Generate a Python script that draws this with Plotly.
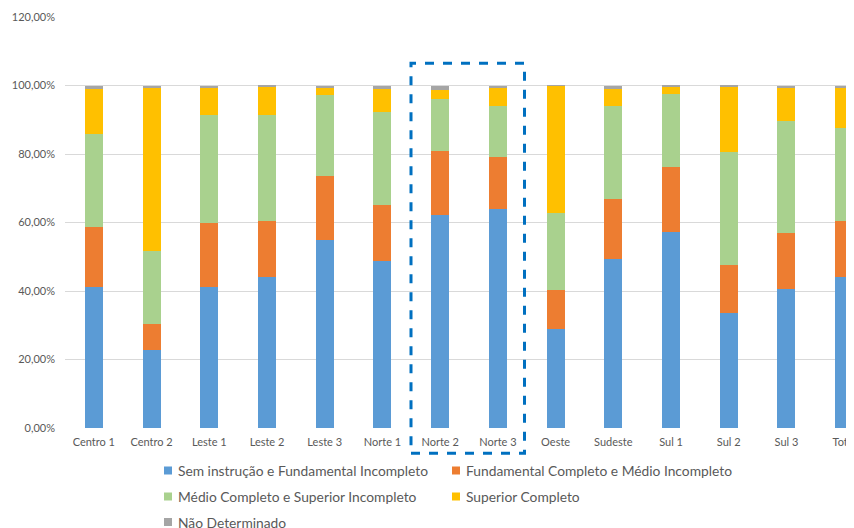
# data viz
import plotly.graph_objects as go

# regions
regioes = ["Centro 1", "Centro 2", "Leste 1", "Leste 2", "Leste 3", "Norte 1", "Norte 2",
           "Norte 3", "Oeste", "Sudeste", "Sul 1", "Sul 2", "Sul 3", "Total"]

# share of each education level (%)
sem_instrucao = [41.3, 22.8, 41.3, 44.1, 54.8, 48.7, 62.3, 63.9, 28.9, 49.4, 57.1, 33.5, 40.6, 44.1]
fund_completo = [17.5, 7.7, 18.7, 16.3, 18.9, 16.3, 18.6, 15.2, 11.4, 17.4, 19.0, 14.2, 16.3, 16.4]
medio_completo = [27.1, 21.3, 31.4, 31.0, 23.6, 27.4, 15.1, 14.8, 22.5, 27.3, 21.4, 33.0, 32.6, 27.2]
superior = [13.2, 47.7, 8.1, 8.2, 2.2, 6.7, 2.7, 5.3, 37.1, 4.8, 2.3, 19.1, 9.9, 11.6]
nao_determinado = [0.9, 0.5, 0.5, 0.4, 0.5, 0.9, 1.3, 0.8, 0.1, 1.1, 0.2, 0.2, 0.6, 0.7]

y_ticks = [0, 20, 40, 60, 80, 100, 120]
y_ticktext = ["0,00%", "20,00%", "40,00%", "60,00%", "80,00%", "100,00%", "120,00%"]

series = [
    ("Sem instrução e Fundamental Incompleto", sem_instrucao, "#5B9BD5"),
    ("Fundamental Completo e Médio Incompleto", fund_completo, "#ED7D31"),
    ("Médio Completo e Superior Incompleto", medio_completo, "#A9D18E"),
    ("Superior Completo", superior, "#FFC000"),
    ("Não Determinado", nao_determinado, "#A5A5A5"),
]

# the page body keeps its default 8px margin, so the figure is drawn 8px in
PAGE_OFF = 8
W, H = 854 - PAGE_OFF, 528 - PAGE_OFF
L, R, T = 65 - PAGE_OFF, 0, 17 - PAGE_OFF
B = H - (428 - PAGE_OFF)
pw, ph = W - L - R, H - T - B

# page pixel -> paper coords
def px_x(x):
    return (x - PAGE_OFF - L) / pw

def px_y(y):
    return (H - B - (y - PAGE_OFF)) / ph

fig = go.Figure()

for nome, vals, cor in series:
    fig.add_trace(go.Bar(
        x=regioes,
        y=vals,
        name=nome,
        marker=dict(color=cor, line=dict(width=0)),
        hoverinfo="skip",
    ))

fig.update_layout(
    width=W,
    height=H,
    barmode="stack",
    bargap=0.688,
    plot_bgcolor="white",
    paper_bgcolor="white",
    margin=dict(l=L, r=R, t=T, b=B, autoexpand=False),
    font=dict(family="Lato", color="#595959"),
    showlegend=False,
)

fig.update_xaxes(
    range=[-0.5, 13.17],
    automargin=False,
    showgrid=False,
    showline=False,
    ticks="",
    tickfont=dict(size=11),
    ticklabelstandoff=6,
)

fig.update_yaxes(
    range=[0, 120],
    automargin=False,
    tickvals=y_ticks,
    ticktext=y_ticktext,
    showgrid=True,
    gridcolor="#D9D9D9",
    gridwidth=1,
    zeroline=False,
    showline=False,
    ticks="",
    tickfont=dict(size=11),
    ticklabelstandoff=9,
)

# legend drawn by hand: two columns, Excel style
leg_cols = [168, 456]
leg_rows = [470.5, 496.5, 522]
for i, (nome, vals, cor) in enumerate(series):
    cx = leg_cols[i % 2]
    cy = leg_rows[i // 2]
    fig.add_shape(
        type="rect", xref="paper", yref="paper",
        x0=px_x(cx - 4), x1=px_x(cx + 4),
        y0=px_y(cy + 4), y1=px_y(cy - 4),
        line=dict(width=0), fillcolor=cor,
    )
    fig.add_annotation(
        xref="paper", yref="paper",
        x=px_x(cx + 8), y=px_y(cy),
        xanchor="left", yanchor="middle",
        text=nome, showarrow=False,
        font=dict(size=13.8, color="#595959"),
    )

# dashed highlight box around Norte 2 / Norte 3
fig.add_shape(
    type="rect",
    xref="paper", yref="paper",
    x0=px_x(411), x1=px_x(524.5),
    y0=px_y(453.3), y1=px_y(63.3),
    line=dict(color="#0070C0", width=3, dash="dash"),
    fillcolor="rgba(0,0,0,0)",
    layer="above",
)

fig.write_html("out.html")
